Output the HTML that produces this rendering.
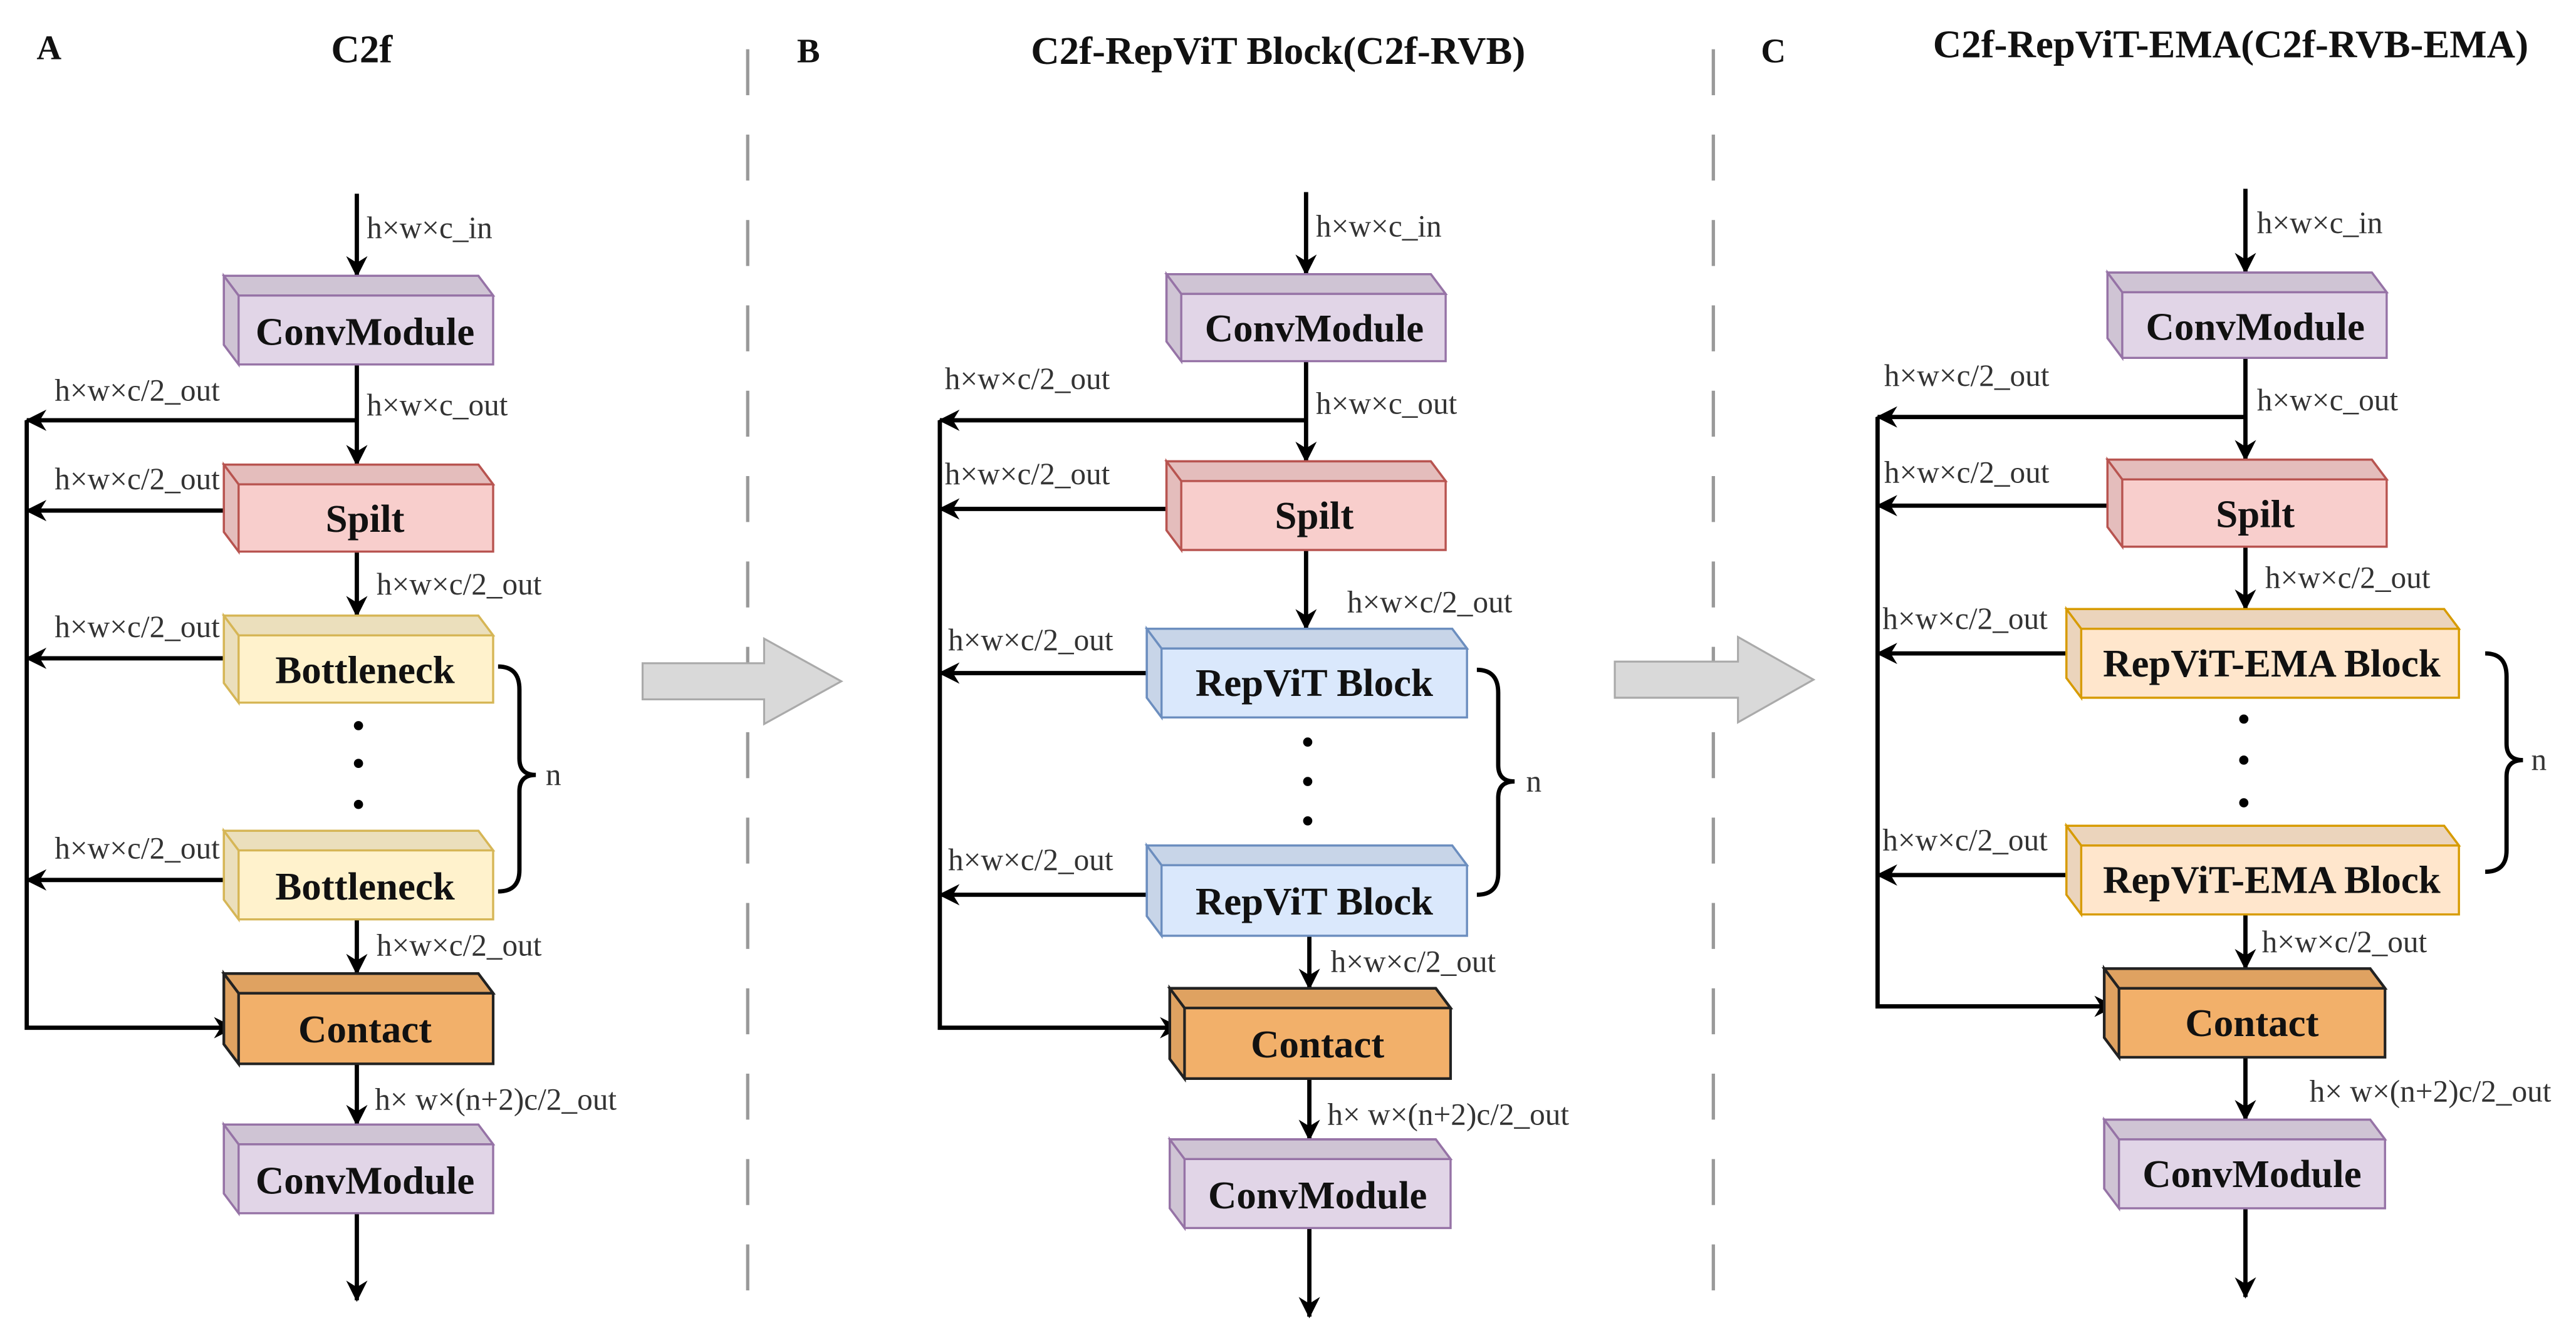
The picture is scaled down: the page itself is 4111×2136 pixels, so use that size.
<!DOCTYPE html>
<html><head><meta charset="utf-8"><style>
html,body{margin:0;padding:0;background:#fff;}
svg{display:block}
.t{font-family:"Liberation Serif",serif;font-weight:bold;font-size:24px;fill:#111;text-anchor:middle}
.h{font-family:"Liberation Serif",serif;font-weight:bold;font-size:24px;fill:#111}
.s{font-family:"Liberation Serif",serif;font-size:18.8px;fill:#333}
.ln{stroke:#000;stroke-width:2.6;fill:none}
.conv path{fill:#e1d5e7;stroke:#9673a6;stroke-width:1.3}
.spl path{fill:#f8cecc;stroke:#b85450;stroke-width:1.3}
.bot path{fill:#fff2cc;stroke:#d6b656;stroke-width:1.3}
.rv path{fill:#dae8fc;stroke:#6c8ebf;stroke-width:1.3}
.ema path{fill:#ffe6cc;stroke:#d79b00;stroke-width:1.3}
.con path{fill:#f2b06a;stroke:#222;stroke-width:1.6}
path.d{fill:#000!important;fill-opacity:0.08!important}
</style></head><body>
<svg width="4111" height="2136" viewBox="0 0 1568 815" xmlns="http://www.w3.org/2000/svg">
<defs>
<marker id="a" markerWidth="13" markerHeight="13" refX="12" refY="6.5" orient="auto" markerUnits="userSpaceOnUse" viewBox="0 0 13 13">
<path d="M0 0 L13 6.5 L0 13 L4 6.5 Z" fill="#000"/></marker>
</defs>
<rect width="1568" height="815" fill="#fff"/>

<line x1="455" y1="30" x2="455" y2="795" stroke="#999" stroke-width="2" stroke-dasharray="28 24"/>
<line x1="1043" y1="30" x2="1043" y2="795" stroke="#999" stroke-width="2" stroke-dasharray="28 24"/>

<text class="h" x="22" y="36" style="font-size:21px">A</text>
<text class="h" x="220" y="38" text-anchor="middle">C2f</text>
<text class="h" x="485" y="38" style="font-size:21px">B</text>
<text class="h" x="778" y="39" text-anchor="middle">C2f-RepViT Block(C2f-RVB)</text>
<text class="h" x="1072" y="38" style="font-size:21px">C</text>
<text class="h" x="1358" y="35" text-anchor="middle">C2f-RepViT-EMA(C2f-RVB-EMA)</text>

<path d="M391 404 H465 V389 L512 415 L465 441 V426 H391 Z" fill="#d9d9d9" stroke="#aaa" stroke-width="1.2"/>
<path d="M983 403 H1058 V388 L1104 414 L1058 440 V425 H983 Z" fill="#d9d9d9" stroke="#aaa" stroke-width="1.2"/>

<!-- A -->
<g class="ln" marker-end="url(#a)">
<line x1="217" y1="118" x2="217" y2="168"/>
<line x1="217" y1="222" x2="217" y2="283"/>
<line x1="217" y1="256" x2="16" y2="256"/>
<line x1="140" y1="311" x2="16" y2="311"/>
<line x1="217" y1="336" x2="217" y2="375"/>
<line x1="140" y1="401" x2="16" y2="401"/>
<line x1="140" y1="536" x2="16" y2="536"/>
<line x1="217" y1="560" x2="217" y2="593"/>
<polyline points="16,256 16,626 142,626"/>
<line x1="217" y1="648" x2="217" y2="685"/>
<line x1="217" y1="739" x2="217" y2="792"/>
</g>
<g class="conv"><path d="M136 168 H291 L300 180 V222 H145 L136 210 Z"/><path class="d" d="M136 168 H291 L300 180 H145 Z"/><path class="d" d="M136 168 L145 180 V222 L136 210 Z"/></g>
<text class="t" x="222" y="210">ConvModule</text>
<g class="spl"><path d="M136 283 H291 L300 295 V336 H145 L136 324 Z"/><path class="d" d="M136 283 H291 L300 295 H145 Z"/><path class="d" d="M136 283 L145 295 V336 L136 324 Z"/></g>
<text class="t" x="222" y="324">Spilt</text>
<g class="bot"><path d="M136 375 H291 L300 387 V428 H145 L136 416 Z"/><path class="d" d="M136 375 H291 L300 387 H145 Z"/><path class="d" d="M136 375 L145 387 V428 L136 416 Z"/></g>
<text class="t" x="222" y="416">Bottleneck</text>
<g class="bot"><path d="M136 506 H291 L300 518 V560 H145 L136 548 Z"/><path class="d" d="M136 506 H291 L300 518 H145 Z"/><path class="d" d="M136 506 L145 518 V560 L136 548 Z"/></g>
<text class="t" x="222" y="548">Bottleneck</text>
<g class="con"><path d="M136 593 H291 L300 605 V648 H145 L136 636 Z"/><path class="d" d="M136 593 H291 L300 605 H145 Z"/><path class="d" d="M136 593 L145 605 V648 L136 636 Z"/></g>
<text class="t" x="222" y="635">Contact</text>
<g class="conv"><path d="M136 685 H291 L300 697 V739 H145 L136 727 Z"/><path class="d" d="M136 685 H291 L300 697 H145 Z"/><path class="d" d="M136 685 L145 697 V739 L136 727 Z"/></g>
<text class="t" x="222" y="727">ConvModule</text>
<circle cx="218" cy="442" r="2.8"/><circle cx="218" cy="465" r="2.8"/><circle cx="218" cy="490" r="2.8"/>
<path class="ln" d="M303 406 Q316 406 316 420 V462 Q316 472 326 472 Q316 472 316 482 V530 Q316 543 303 543"/>
<text class="s" x="332" y="478">n</text>
<text class="s" x="223" y="145">h×w×c_in</text>
<text class="s" x="223" y="253">h×w×c_out</text>
<text class="s" x="33" y="244">h×w×c/2_out</text>
<text class="s" x="33" y="298">h×w×c/2_out</text>
<text class="s" x="229" y="362">h×w×c/2_out</text>
<text class="s" x="33" y="388">h×w×c/2_out</text>
<text class="s" x="33" y="523">h×w×c/2_out</text>
<text class="s" x="229" y="582">h×w×c/2_out</text>
<text class="s" x="228" y="676">h× w×(n+2)c/2_out</text>

<!-- B -->
<g class="ln" marker-end="url(#a)">
<line x1="795" y1="117" x2="795" y2="167"/>
<line x1="795" y1="220" x2="795" y2="281"/>
<line x1="795" y1="256" x2="572" y2="256"/>
<line x1="714" y1="310" x2="572" y2="310"/>
<line x1="795" y1="335" x2="795" y2="383"/>
<line x1="702" y1="410" x2="572" y2="410"/>
<line x1="702" y1="545" x2="572" y2="545"/>
<line x1="797" y1="570" x2="797" y2="602"/>
<polyline points="572,256 572,626 718,626"/>
<line x1="797" y1="657" x2="797" y2="694"/>
<line x1="797" y1="748" x2="797" y2="802"/>
</g>
<g class="conv"><path d="M710 167 H871 L880 179 V220 H719 L710 208 Z"/><path class="d" d="M710 167 H871 L880 179 H719 Z"/><path class="d" d="M710 167 L719 179 V220 L710 208 Z"/></g>
<text class="t" x="800" y="208">ConvModule</text>
<g class="spl"><path d="M710 281 H871 L880 293 V335 H719 L710 323 Z"/><path class="d" d="M710 281 H871 L880 293 H719 Z"/><path class="d" d="M710 281 L719 293 V335 L710 323 Z"/></g>
<text class="t" x="800" y="322">Spilt</text>
<g class="rv"><path d="M698 383 H884 L893 395 V437 H707 L698 425 Z"/><path class="d" d="M698 383 H884 L893 395 H707 Z"/><path class="d" d="M698 383 L707 395 V437 L698 425 Z"/></g>
<text class="t" x="800" y="424">RepViT Block</text>
<g class="rv"><path d="M698 515 H884 L893 527 V570 H707 L698 558 Z"/><path class="d" d="M698 515 H884 L893 527 H707 Z"/><path class="d" d="M698 515 L707 527 V570 L698 558 Z"/></g>
<text class="t" x="800" y="557">RepViT Block</text>
<g class="con"><path d="M712 602 H874 L883 614 V657 H721 L712 645 Z"/><path class="d" d="M712 602 H874 L883 614 H721 Z"/><path class="d" d="M712 602 L721 614 V657 L712 645 Z"/></g>
<text class="t" x="802" y="644">Contact</text>
<g class="conv"><path d="M712 694 H874 L883 706 V748 H721 L712 736 Z"/><path class="d" d="M712 694 H874 L883 706 H721 Z"/><path class="d" d="M712 694 L721 706 V748 L712 736 Z"/></g>
<text class="t" x="802" y="736">ConvModule</text>
<circle cx="796" cy="452" r="2.8"/><circle cx="796" cy="476" r="2.8"/><circle cx="796" cy="500" r="2.8"/>
<path class="ln" d="M899 408 Q912 408 912 422 V466 Q912 476 922 476 Q912 476 912 486 V532 Q912 545 899 545"/>
<text class="s" x="929" y="482">n</text>
<text class="s" x="801" y="144">h×w×c_in</text>
<text class="s" x="801" y="252">h×w×c_out</text>
<text class="s" x="575" y="237">h×w×c/2_out</text>
<text class="s" x="575" y="295">h×w×c/2_out</text>
<text class="s" x="820" y="373">h×w×c/2_out</text>
<text class="s" x="577" y="396">h×w×c/2_out</text>
<text class="s" x="577" y="530">h×w×c/2_out</text>
<text class="s" x="810" y="592">h×w×c/2_out</text>
<text class="s" x="808" y="685">h× w×(n+2)c/2_out</text>

<!-- C -->
<g class="ln" marker-end="url(#a)">
<line x1="1367" y1="115" x2="1367" y2="166"/>
<line x1="1367" y1="218" x2="1367" y2="280"/>
<line x1="1367" y1="254" x2="1143" y2="254"/>
<line x1="1287" y1="308" x2="1143" y2="308"/>
<line x1="1367" y1="333" x2="1367" y2="371"/>
<line x1="1262" y1="398" x2="1143" y2="398"/>
<line x1="1262" y1="533" x2="1143" y2="533"/>
<line x1="1367" y1="557" x2="1367" y2="590"/>
<polyline points="1143,254 1143,613 1287,613"/>
<line x1="1367" y1="644" x2="1367" y2="682"/>
<line x1="1367" y1="736" x2="1367" y2="790"/>
</g>
<g class="conv"><path d="M1283 166 H1444 L1453 178 V218 H1292 L1283 206 Z"/><path class="d" d="M1283 166 H1444 L1453 178 H1292 Z"/><path class="d" d="M1283 166 L1292 178 V218 L1283 206 Z"/></g>
<text class="t" x="1373" y="207">ConvModule</text>
<g class="spl"><path d="M1283 280 H1444 L1453 292 V333 H1292 L1283 321 Z"/><path class="d" d="M1283 280 H1444 L1453 292 H1292 Z"/><path class="d" d="M1283 280 L1292 292 V333 L1283 321 Z"/></g>
<text class="t" x="1373" y="321">Spilt</text>
<g class="ema"><path d="M1258 371 H1488 L1497 383 V425 H1267 L1258 413 Z"/><path class="d" d="M1258 371 H1488 L1497 383 H1267 Z"/><path class="d" d="M1258 371 L1267 383 V425 L1258 413 Z"/></g>
<text class="t" x="1383" y="412">RepViT-EMA Block</text>
<g class="ema"><path d="M1258 503 H1488 L1497 515 V557 H1267 L1258 545 Z"/><path class="d" d="M1258 503 H1488 L1497 515 H1267 Z"/><path class="d" d="M1258 503 L1267 515 V557 L1258 545 Z"/></g>
<text class="t" x="1383" y="544">RepViT-EMA Block</text>
<g class="con"><path d="M1281 590 H1443 L1452 602 V644 H1290 L1281 632 Z"/><path class="d" d="M1281 590 H1443 L1452 602 H1290 Z"/><path class="d" d="M1281 590 L1290 602 V644 L1281 632 Z"/></g>
<text class="t" x="1371" y="631">Contact</text>
<g class="conv"><path d="M1281 682 H1443 L1452 694 V736 H1290 L1281 724 Z"/><path class="d" d="M1281 682 H1443 L1452 694 H1290 Z"/><path class="d" d="M1281 682 L1290 694 V736 L1281 724 Z"/></g>
<text class="t" x="1371" y="723">ConvModule</text>
<circle cx="1366" cy="438" r="2.8"/><circle cx="1366" cy="463" r="2.8"/><circle cx="1366" cy="489" r="2.8"/>
<path class="ln" d="M1513 398 Q1526 398 1526 412 V453 Q1526 463 1536 463 Q1526 463 1526 473 V518 Q1526 531 1513 531"/>
<text class="s" x="1541" y="469">n</text>
<text class="s" x="1374" y="142">h×w×c_in</text>
<text class="s" x="1374" y="250">h×w×c_out</text>
<text class="s" x="1147" y="235">h×w×c/2_out</text>
<text class="s" x="1147" y="294">h×w×c/2_out</text>
<text class="s" x="1379" y="358">h×w×c/2_out</text>
<text class="s" x="1146" y="383">h×w×c/2_out</text>
<text class="s" x="1146" y="518">h×w×c/2_out</text>
<text class="s" x="1377" y="580">h×w×c/2_out</text>
<text class="s" x="1406" y="671">h× w×(n+2)c/2_out</text>
</svg>
</body></html>
